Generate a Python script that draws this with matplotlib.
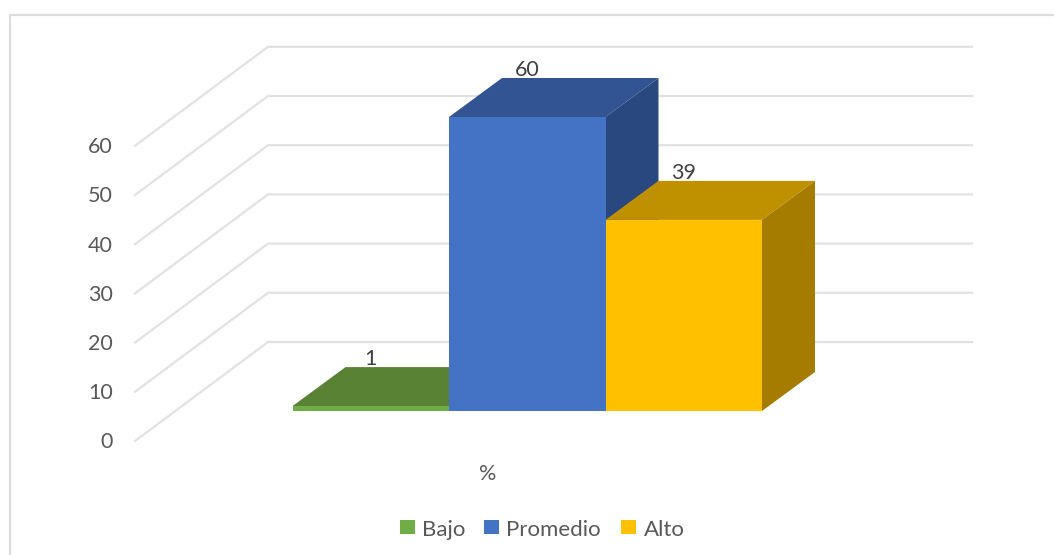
import matplotlib
matplotlib.use('Agg')
import matplotlib.pyplot as plt
from matplotlib.patches import Polygon, Rectangle

# Survey results by level
categories = ['Bajo', 'Promedio', 'Alto']
values = [1, 60, 39]
front_colors = ['#70AD47', '#4472C4', '#FFC000']
top_colors = ['#5A8235', '#325493', '#BF9000']
side_colors = ['#4F7530', '#2A4880', '#A57C00']
y_ticks = [0, 10, 20, 30, 40, 50, 60]
tick_labels = ['0', '10', '20', '30', '40', '50', '60']
axis_name = '%'

W, H = 1054, 555
plt.rcParams['font.family'] = ['Lato', 'DejaVu Sans']
text_color = '#595959'
grid_color = '#E2E2E2'

fig = plt.figure(figsize=(W / 100, H / 100), dpi=100)
ax = fig.add_axes([0, 0, 1, 1])
ax.set_xlim(0, W)
ax.set_ylim(H, 0)
ax.axis('off')

# Pixels per unit on the value axis, and where the floor and walls sit
unit = 4.9
wall_unit = 4.92
front_x, back_x, right_x = 135, 268, 972
front_floor, back_floor = 441, 342

# Chart frame, only top and left edges fall inside the canvas
ax.plot([9.5, 9.5, W], [H, 14.5, 14.5], color='#DEDEDE', lw=1.6, solid_joinstyle='miter')

# Grid lines run along the side wall and then across the back wall
for v in y_ticks:
    dy = v * wall_unit
    ax.plot([front_x, back_x, right_x],
            [front_floor - dy, back_floor - dy, back_floor - dy],
            color=grid_color, lw=1.6, zorder=1)

for v, lab in zip(y_ticks, tick_labels):
    ax.text(113, front_floor - v * wall_unit + 1.5, lab, color=text_color,
            fontsize=15.5, ha='right', va='center')

# Bars: front face, top and right side
bar_left, bar_width = 292.5, 156.5
base = 411
dx, dy = 53, -39
for i, (name, val) in enumerate(zip(categories, values)):
    x0 = bar_left + i * bar_width
    x1 = x0 + bar_width
    top = base - val * unit
    z = 3 + i
    ax.add_patch(Polygon([(x0, top), (x1, top), (x1 + dx, top + dy), (x0 + dx, top + dy)],
                         color=top_colors[i], lw=0, zorder=z))
    ax.add_patch(Polygon([(x1, top), (x1, base), (x1 + dx, base + dy), (x1 + dx, top + dy)],
                         color=side_colors[i], lw=0, zorder=z))
    ax.add_patch(Rectangle((x0, top), bar_width, base - top,
                           color=front_colors[i], lw=0, zorder=z + 0.5))
    ax.text(x0 + dx + bar_width * 0.16, top + dy - 8, str(val), color='#404040',
            fontsize=15.5, ha='center', va='center', zorder=10)

ax.text(488, 474, axis_name, color=text_color, fontsize=15.5, ha='center', va='center')

# Legend
leg_x = [400, 484, 621]
for x, name, col in zip(leg_x, categories, front_colors):
    ax.add_patch(Rectangle((x, 520), 15, 14, color=col, lw=0))
    ax.text(x + 22.5, 530, name, color=text_color, fontsize=16, ha='left', va='center')

fig.savefig('out.png', dpi=100)
